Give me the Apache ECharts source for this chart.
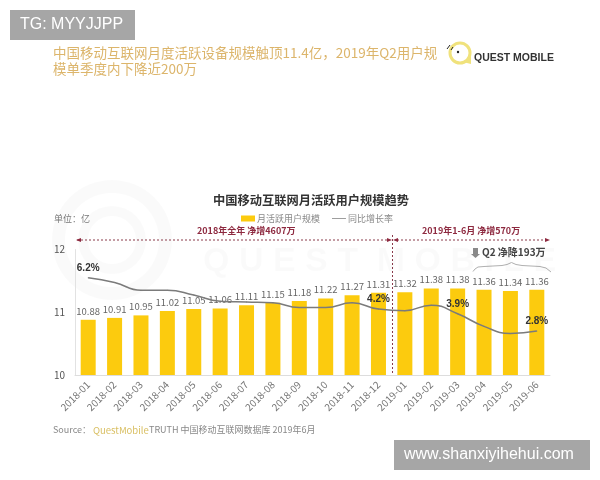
<!DOCTYPE html>
<html>
<head>
<meta charset="utf-8">
<style>
  html, body { margin: 0; padding: 0; background: #fff; }
  #main { width: 600px; height: 480px; }
</style>
<script src="https://cdn.jsdelivr.net/npm/echarts@6/dist/echarts.min.js"></script>
</head>
<body>
<div id="main"></div>
<script>
const months = ['2018-01','2018-02','2018-03','2018-04','2018-05','2018-06','2018-07','2018-08','2018-09','2018-10','2018-11','2018-12','2019-01','2019-02','2019-03','2019-04','2019-05','2019-06'];
const mau = [10.88,10.91,10.95,11.02,11.05,11.06,11.11,11.15,11.18,11.22,11.27,11.31,11.32,11.38,11.38,11.36,11.34,11.36];
const growth = [6.2,5.9,5.4,5.4,5.1,4.7,4.65,4.6,4.3,4.3,4.6,4.2,4.1,4.45,3.9,3.1,2.65,2.8];
const labelledGrowth = [0,11,14,17];
const yTicks = [10,11,12];

const font = '"Noto Sans CJK SC", "Liberation Sans", sans-serif';
const latin = '"Liberation Sans", sans-serif';
const myChart = echarts.init(document.getElementById('main'));

function txt(x, y, text, color, size, weight, family) {
    return {
        type: 'text', x: x, y: y, z: 10,
        style: {
            text: text, fill: color, fontSize: size, fontFamily: family || font,
            fontWeight: weight || 'normal', align: 'left', verticalAlign: 'middle'
        }
    };
}
function dotted(x1, y1, x2, y2) {
    return {
        type: 'line', z: 5,
        shape: { x1: x1, y1: y1, x2: x2, y2: y2 },
        style: { stroke: '#8a3a4a', lineWidth: 1, lineDash: [2, 2] }
    };
}
function arrow(x, y, dir) {
    return {
        type: 'polygon', z: 6,
        shape: { points: [[x, y - 2], [x, y + 2], [x + dir * 5, y]] },
        style: { fill: '#8e2a40' }
    };
}

const option = {
    backgroundColor: '#fff',
    animation: false,
    textStyle: { fontFamily: font },
    legend: {
        top: 214, left: 241, padding: 0, itemGap: 12, itemWidth: 14, itemHeight: 6,
        textStyle: { fontSize: 9, color: '#888', fontFamily: font, padding: [0, 0, 0, -3] },
        data: [
            { name: '月活跃用户规模', icon: 'rect' },
            // 细线图例
            { name: '同比增长率', icon: 'path://M0 0L.01 0M0 45H233V58H0ZM0 100L.01 100', itemStyle: { color: '#7f7f7f' } }
        ]
    },
    grid: { left: 75, right: 50, top: 249.5, bottom: 105 },
    xAxis: {
        type: 'category',
        data: months,
        axisTick: { show: false },
        axisLine: { lineStyle: { color: '#ddd' } },
        axisLabel: { rotate: 45, interval: 0, fontSize: 10, color: '#777', margin: 8, fontFamily: font }
    },
    yAxis: [
        {
            type: 'value', min: yTicks[0], max: yTicks[2], interval: 1,
            axisLine: { show: true, lineStyle: { color: '#e2e2e2' } },
            axisTick: { show: false },
            splitLine: { show: false },
            axisLabel: { fontSize: 10, color: '#555', margin: 10, fontFamily: font }
        },
        {
            type: 'value', min: 0, max: 8, show: false, splitLine: { show: false }
        }
    ],
    series: [
        {
            name: '月活跃用户规模',
            type: 'bar',
            barWidth: 15,
            data: mau,
            itemStyle: { color: '#fccb0e' },
            label: {
                show: true, position: 'top', distance: 4,
                fontSize: 9.5, color: '#666', fontFamily: font,
                formatter: function (p) { return p.value.toFixed(2); }
            },
            z: 2
        },
        {
            name: '同比增长率',
            type: 'line',
            yAxisIndex: 1,
            smooth: 0.5,
            showSymbol: true,
            showAllSymbol: true,
            symbol: 'circle',
            symbolSize: 1,
            data: growth.map(function (v, i) {
                return labelledGrowth.indexOf(i) >= 0
                    ? { value: v, label: { show: true } }
                    : v;
            }),
            lineStyle: { color: '#7b7b7b', width: 1.5 },
            itemStyle: { color: '#7b7b7b' },
            label: {
                show: false, position: 'top', distance: 4,
                fontSize: 10, fontWeight: 'bold', color: '#333', fontFamily: latin,
                formatter: function (p) { return p.value + '%'; }
            },
            z: 3
        }
    ],
    graphic: [
        // 水印
        {
            type: 'ring', z: 0, silent: true,
            shape: { cx: 112, cy: 240, r: 60, r0: 47 },
            style: { fill: 'rgba(0,0,0,0.018)' }
        },
        {
            type: 'ring', z: 0, silent: true,
            shape: { cx: 112, cy: 240, r: 34, r0: 24 },
            style: { fill: 'rgba(0,0,0,0.018)' }
        },
        txt(203, 262, 'Q U E S T  M O B I L E', 'rgba(0,0,0,0.018)', 34, 'bold', latin),

        // 灰框
        { type: 'rect', z: 9, shape: { x: 10, y: 10, width: 125, height: 30 }, style: { fill: '#a6a6a6' } },
        txt(20, 25, 'TG: MYYJJPP', '#fff', 16, 'normal', latin),
        { type: 'rect', z: 9, shape: { x: 394, y: 440, width: 196, height: 30 }, style: { fill: '#a6a6a6' } },
        txt(404, 455, 'www.shanxiyihehui.com', '#fff', 16, 'normal', latin),

        // 标题
        txt(53, 53, '中国移动互联网月度活跃设备规模触顶11.4亿，2019年Q2用户规', '#dcb56b', 13.5),
        txt(53, 69, '模单季度内下降近200万', '#dcb56b', 13.5),
        txt(213, 200, '中国移动互联网月活跃用户规模趋势', '#333', 12.25, 'bold'),

        // logo
        { type: 'ring', z: 5, shape: { cx: 460, cy: 53, r: 11.5, r0: 8.5 }, style: { fill: '#f0e27c' } },
        { type: 'polygon', z: 5, shape: { points: [[463, 62], [471, 56], [471, 64]] }, style: { fill: '#f0e27c' } },
        { type: 'circle', z: 6, shape: { cx: 458, cy: 52, r: 1.2 }, style: { fill: '#222' } },
        { type: 'line', z: 6, shape: { x1: 447, y1: 49, x2: 450, y2: 45 }, style: { stroke: '#222', lineWidth: 1 } },
        { type: 'line', z: 6, shape: { x1: 451, y1: 50, x2: 453, y2: 47 }, style: { stroke: '#222', lineWidth: 1 } },
        txt(474, 58, 'QUEST MOBILE', '#333', 10.5, 'bold', latin),

        // 单位
        txt(54, 219, '单位：亿', '#777', 9),

        // 区间标注
        dotted(77, 240, 388, 240),
        dotted(397, 240, 546, 240),
        dotted(392.5, 235, 392.5, 375),
        arrow(81, 240, -1),
        arrow(387, 240, 1),
        arrow(398, 240, -1),
        arrow(545, 240, 1),
        txt(197, 230.5, '2018年全年 净增4607万', '#8e2a40', 9, 'bold'),
        txt(422, 231, '2019年1-6月 净增570万', '#8e2a40', 9, 'bold'),

        // Q2
        { type: 'polygon', z: 6, shape: { points: [[473, 248], [478, 248], [478, 254], [480, 254], [475.5, 258], [471, 254], [473, 254]] }, style: { fill: '#8a8a8a' } },
        txt(482, 252.5, 'Q2 净降193万', '#444', 10, 'bold'),
        {
            type: 'polyline', z: 6,
            shape: { points: [[473, 271.5], [475, 269], [478, 267], [484, 266.5], [502, 265.5], [507, 264.5], [511.5, 262.5], [516, 264.5], [522, 265.5], [540, 266.5], [546, 268], [551, 272]] },
            style: { stroke: '#b0b0b0', lineWidth: 1, fill: 'none' }
        },

        // 来源
        txt(53, 430, 'Source：', '#888', 9),
        txt(93, 430, 'QuestMobile', '#d9bf62', 9.5),
        txt(149, 430, 'TRUTH 中国移动互联网数据库 2019年6月', '#888', 9)
    ]
};
myChart.setOption(option);
</script>
</body>
</html>
